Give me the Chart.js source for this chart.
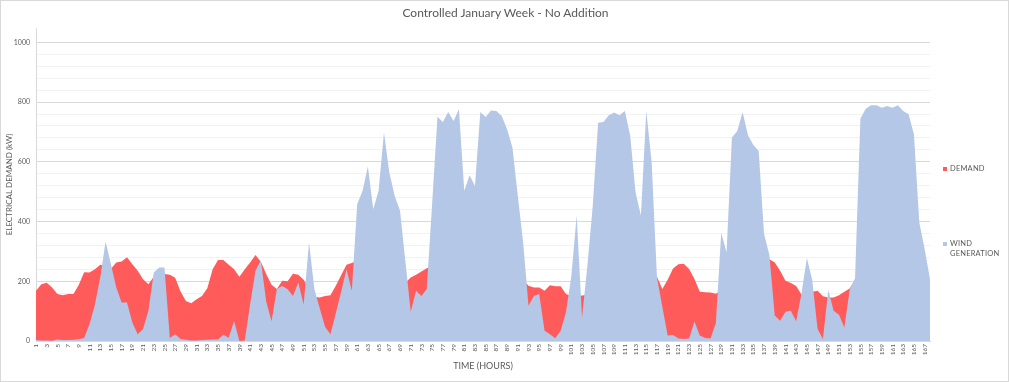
<!DOCTYPE html>
<html>
<head>
<meta charset="utf-8">
<script src="https://cdn.jsdelivr.net/npm/chart.js@4.4.1/dist/chart.umd.min.js"></script>
<style>
  html, body { margin:0; padding:0; background:#fff; }
  #wrap { position:relative; width:1009px; height:382px; box-sizing:border-box; border:1px solid #D9D9D9; background:#fff; }
  #c { position:absolute; left:0; top:0; }
  #title { position:absolute; left:0; width:1009px; top:4px; text-align:center; font-family:Lato, "Liberation Sans", sans-serif; font-size:12px; color:#595959; }
  .leg { position:absolute; font-family:Lato, "Liberation Sans", sans-serif; font-size:7.5px; color:#595959; line-height:10px; letter-spacing:0.2px; }
  .sw { position:absolute; width:4px; height:4px; }
</style>
</head>
<body>
<div id="wrap">
  <canvas id="c" width="1009" height="382"></canvas>
  <div id="title">Controlled January Week - No Addition</div>
  <div class="sw" style="left:942px; top:166px; background:#FF5B5B;"></div>
  <div class="leg" style="left:949px; top:163px;">DEMAND</div>
  <div class="sw" style="left:942px; top:241px; background:#B4C7E7;"></div>
  <div class="leg" style="left:949px; top:238px;">WIND<br>GENERATION</div>
</div>
<script>
// Hours 1..168 (category axis)
const hours = [];
for (let h = 1; h <= 168; h++) hours.push(String(h));

// Electrical demand (kW), hours 1..168
const demand = [
  168,190,195,179,157,153,157,157,188,230,
  229,240,255,252,242,263,266,280,257,235,
  207,190,215,222,224,222,212,166,134,126,
  140,151,177,240,271,271,255,240,215,240,
  263,288,265,224,188,174,202,200,225,222,
  205,175,148,146,151,153,185,220,255,261,
  270,265,255,245,240,235,225,215,205,195,
  213,222,233,244,250,255,250,245,240,230,
  215,205,195,190,185,200,230,245,250,245,
  220,205,185,179,179,168,187,183,183,157,
  150,150,152,155,165,200,230,245,250,250,
  245,235,225,215,210,215,215,174,205,243,
  257,259,241,208,165,163,162,158,170,200,
  230,250,260,265,270,275,278,274,263,235,
  202,194,184,155,160,165,168,150,146,146,
  153,165,176,205,215,230,245,255,260,260,
  255,250,240,230,215,200,190,180
];

// Wind generation (kW), hours 1..168
const wind = [
  3,2,2,1,5,3,3,4,6,10,
  57,121,213,333,257,179,129,129,62,23,
  40,101,229,246,246,10,23,7,4,2,
  2,3,4,5,5,21,11,67,0,2,
  123,235,270,132,66,174,184,173,151,196,
  122,330,174,110,48,23,93,165,240,168,
  458,503,584,441,503,698,564,486,436,267,
  98,168,151,174,460,751,733,767,737,776,
  503,555,519,767,750,772,770,753,709,648,
  486,330,118,151,157,34,23,9,34,96,
  218,419,79,252,452,731,733,756,765,756,
  770,687,497,420,770,600,213,115,18,20,
  8,7,8,65,18,10,8,60,363,296,
  681,703,766,689,656,636,358,288,85,68,
  98,101,66,160,278,204,40,7,171,101,
  88,45,172,210,745,778,789,789,781,787,
  781,789,770,759,692,397,308,207
];

// Y-axis labels shown
const yTickLabels = [0, 200, 400, 600, 800, 1000];

const FONT = 'Lato, "Liberation Sans", sans-serif';
const GREY = '#595959';

new Chart(document.getElementById('c'), {
  type: 'line',
  data: {
    labels: hours,
    datasets: [
      {
        label: 'DEMAND',
        data: demand,
        fill: 'origin',
        backgroundColor: '#FF5B5B',
        borderWidth: 0,
        borderColor: 'rgba(0,0,0,0)',
        pointRadius: 0,
        tension: 0,
        order: 2
      },
      {
        label: 'WIND GENERATION',
        data: wind,
        fill: 'origin',
        backgroundColor: '#B4C7E7',
        borderWidth: 0,
        borderColor: 'rgba(0,0,0,0)',
        pointRadius: 0,
        tension: 0,
        order: 1
      }
    ]
  },
  options: {
    responsive: false,
    animation: false,
    devicePixelRatio: 1,
    layout: { padding: { left: 0, right: 80, top: 27, bottom: 12 } },
    plugins: {
      legend: { display: false },
      title: { display: false },
      tooltip: { enabled: false }
    },
    scales: {
      x: {
        type: 'category',
        offset: false,
        grid: { display: false, drawTicks: false },
        border: { display: true, color: '#D9D9D9', width: 1 },
        ticks: {
          autoSkip: false,
          minRotation: 90,
          maxRotation: 90,
          padding: 3,
          color: GREY,
          font: { family: FONT, size: 6.5 },
          callback: function (v, i) { return (i % 2 === 0) ? hours[i] : ''; }
        },
        title: {
          display: true,
          text: 'TIME (HOURS)',
          color: GREY,
          font: { family: FONT, size: 9 },
          padding: 0
        },
        afterFit: function (s) { s.height = 30; }
      },
      y: {
        min: 0,
        max: 1048,
        grid: {
          drawTicks: false,
          color: function (ctx) {
            const v = ctx.tick ? ctx.tick.value : 0;
            return (v % 200 === 0) ? '#D9D9D9' : '#F2F2F2';
          },
          lineWidth: 1
        },
        border: { display: true, color: '#D9D9D9', width: 1 },
        afterBuildTicks: function (s) {
          s.ticks = s.ticks.filter(t => t.value <= 1000);
        },
        ticks: {
          stepSize: 40,
          padding: 6,
          color: GREY,
          font: { family: FONT, size: 7 },
          callback: function (v) { return yTickLabels.includes(v) ? String(v) : ''; }
        },
        title: {
          display: true,
          text: 'ELECTRICAL DEMAND (kW)',
          color: GREY,
          font: { family: FONT, size: 8 },
          padding: { top: 4, bottom: 0 }
        },
        afterFit: function (s) { s.width = 35; }
      }
    }
  }
});
</script>
</body>
</html>
